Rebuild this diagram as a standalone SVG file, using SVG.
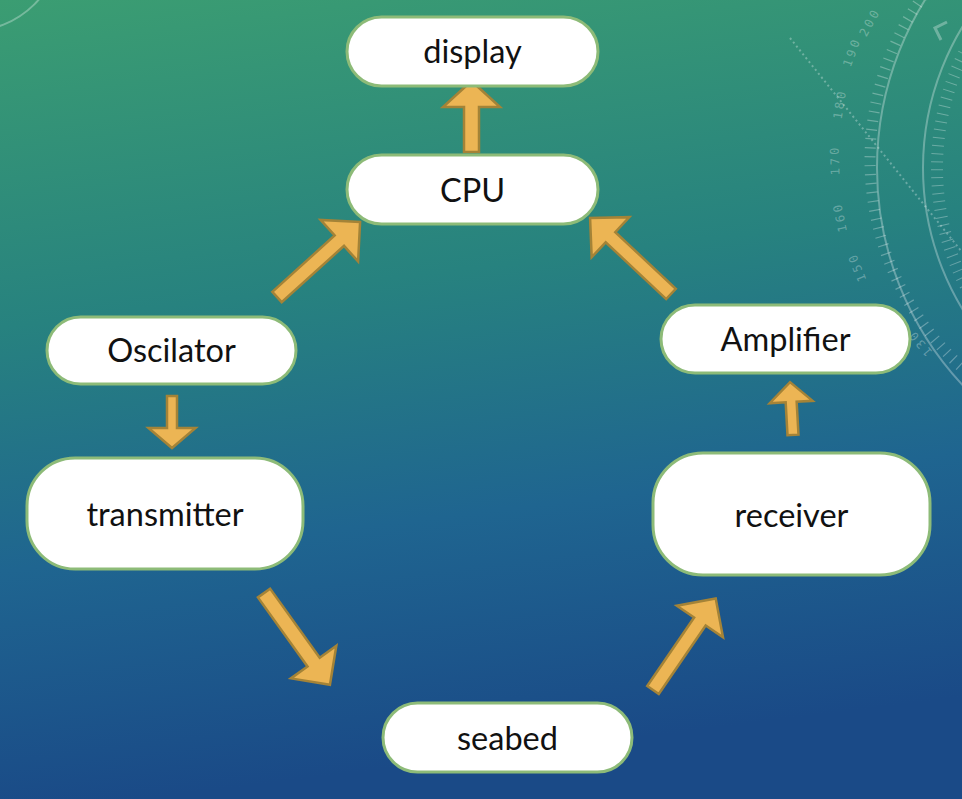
<svg xmlns="http://www.w3.org/2000/svg" width="962" height="799" viewBox="0 0 962 799">
  <defs>
    <linearGradient id="bg" x1="0" y1="0" x2="0.15" y2="1">
      <stop offset="0" stop-color="#3b9d72"/>
      <stop offset="0.4" stop-color="#27827f"/>
      <stop offset="0.7" stop-color="#1f6590"/>
      <stop offset="1" stop-color="#1a4a87"/>
    </linearGradient>
    <style>
      .node rect { fill: #ffffff; stroke: #8dbb78; stroke-width: 3; }
      .node text { font-family: Lato, "Open Sans", sans-serif; font-size: 32.5px; fill: #111111; text-anchor: middle; }
      .arrow { fill: #ecb554; stroke: #a48337; stroke-width: 2.5; stroke-linejoin: miter; }
      .deco { fill: none; stroke: #ffffff; stroke-opacity: 0.3; }
      .num { font-family: "DejaVu Sans Mono", monospace; font-size: 12px; fill: #ffffff; fill-opacity: 0.3; text-anchor: middle; dominant-baseline: central; letter-spacing: 3px; }
    </style>
  </defs>

  <rect x="0" y="0" width="962" height="799" fill="url(#bg)"/>

  <g id="background-decoration">
    <circle class="deco" cx="-30" cy="-60" r="91" stroke-width="2"/>
    <circle class="deco" cx="1195" cy="168" r="318" stroke-width="2"/>
    <circle class="deco" cx="1195" cy="168" r="272" stroke-width="2"/>
    <circle class="deco" cx="1150" cy="160" r="280" stroke-width="11" stroke-dasharray="1.2 7.8" stroke-opacity="0.18"/>
    <circle class="deco" cx="1195" cy="168" r="258" stroke-width="12" stroke-dasharray="1 7" stroke-opacity="0.15"/>
    <line class="deco" x1="790" y1="38" x2="962" y2="252" stroke-width="2" stroke-dasharray="2 3" stroke-opacity="0.22"/>
    <polyline class="deco" points="947,22 935,28 941,40" stroke-width="3"/>
    <text class="num" transform="translate(920,343) rotate(229.7)">130</text>
    <text class="num" transform="translate(857,267) rotate(248.2)">150</text>
    <text class="num" transform="translate(840,217) rotate(258)">160</text>
    <text class="num" transform="translate(835,160) rotate(268.5)">170</text>
    <text class="num" transform="translate(840,104) rotate(279.3)">180</text>
    <text class="num" transform="translate(852,52) rotate(290.2)">190</text>
    <text class="num" transform="translate(870,22) rotate(298.5)" letter-spacing="2">200</text>
  </g>

  <g id="connectors">
    <polygon class="arrow" points="0,-7.5 45,-7.5 45,-28.5 71,0 45,28.5 45,7.5 0,7.5" transform="translate(471.5,152) rotate(-90)"/>
    <polygon class="arrow" points="0,-5 32,-5 32,-23.5 52,0 32,23.5 32,5 0,5" transform="translate(172,396) rotate(90)"/>
    <polygon class="arrow" points="0,-5.5 33,-5.5 33,-21.5 53,0 33,21.5 33,5.5 0,5.5" transform="translate(793,435) rotate(-93.2)"/>
    <polygon class="arrow" points="0,-7 84,-7 84,-28 112,0 84,28 84,7 0,7" transform="translate(277,297) rotate(-42.1)"/>
    <polygon class="arrow" points="0,-7 83,-7 83,-27.5 111,0 83,27.5 83,7 0,7" transform="translate(671,294) rotate(-136.8)"/>
    <polygon class="arrow" points="0,-7.5 85,-7.5 85,-28 113,0 85,28 85,7.5 0,7.5" transform="translate(264,593) rotate(54.3)"/>
    <polygon class="arrow" points="0,-7 83,-7 83,-28 111,0 83,28 83,7 0,7" transform="translate(653,690) rotate(-55.6)"/>
  </g>

  <g id="display" class="node">
    <rect x="347" y="17" width="251" height="69" rx="34.5"/>
    <text x="472.5" y="63">display</text>
  </g>
  <g id="cpu" class="node">
    <rect x="347" y="155" width="251" height="69" rx="34.5"/>
    <text x="472.5" y="202">CPU</text>
  </g>
  <g id="oscilator" class="node">
    <rect x="47" y="317" width="249" height="67" rx="33.5"/>
    <text x="171.5" y="362">Oscilator</text>
  </g>
  <g id="transmitter" class="node">
    <rect x="27" y="458" width="276" height="111" rx="48"/>
    <text x="165" y="526">transmitter</text>
  </g>
  <g id="amplifier" class="node">
    <rect x="661" y="305" width="249" height="68" rx="34"/>
    <text x="785.5" y="351">Amplifier</text>
  </g>
  <g id="receiver" class="node">
    <rect x="653" y="453" width="277" height="122" rx="50"/>
    <text x="791.5" y="527">receiver</text>
  </g>
  <g id="seabed" class="node">
    <rect x="383" y="703" width="249" height="69" rx="34.5"/>
    <text x="507.5" y="750">seabed</text>
  </g>
</svg>
